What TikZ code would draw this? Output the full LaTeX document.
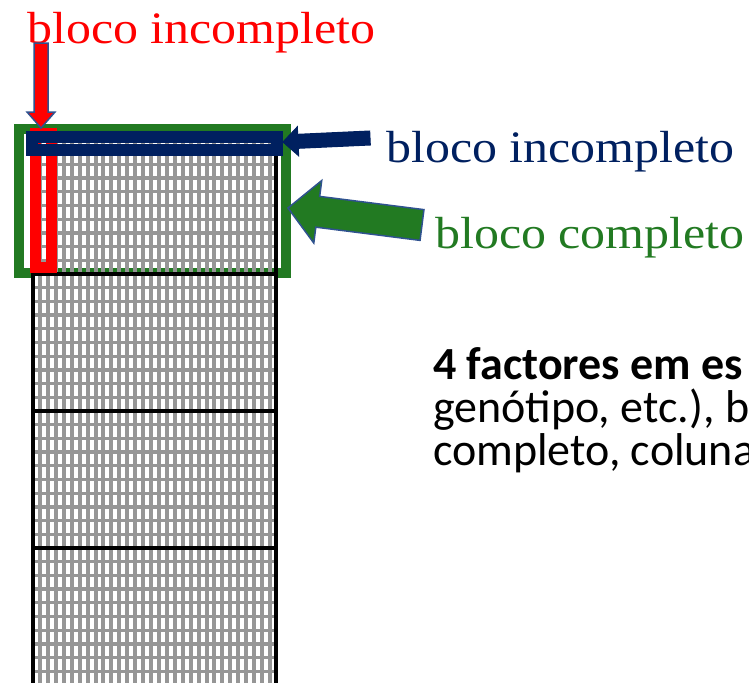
\documentclass[tikz,border=0pt]{standalone}
\usepackage{fontspec}
\setmainfont{Carlito}
\newfontfamily\blockfont[FakeStretch=1.11]{Liberation Serif}
\usetikzlibrary{calc}

\definecolor{blkred}{RGB}{255,0,0}
\definecolor{blknavy}{RGB}{0,32,96}
\definecolor{blkgreen}{RGB}{34,122,34}
\definecolor{arrowedge}{RGB}{47,82,143}
\definecolor{gridgray}{RGB}{150,150,150}

% block arrow: #1 style, #2 tail, #3 tip, #4 half shaft, #5 half head, #6 head length
\newcommand\blockarrow[6]{%
  \path[#1] ($(#2)!#4!90:(#3)$) -- ($(#3)!#6!(#2)!#4!-90:(#2)$)
    -- ($(#3)!#6!(#2)!#5!-90:(#2)$) -- (#3)
    -- ($(#3)!#6!(#2)!#5!90:(#2)$) -- ($(#3)!#6!(#2)!#4!90:(#2)$)
    -- ($(#2)!#4!-90:(#3)$) -- cycle;}

\begin{document}
\begin{tikzpicture}[x=1pt,y=-1pt,
  lbl/.style={anchor=base west,inner sep=0pt,font=\blockfont\fontsize{45}{45}\selectfont},
  body/.style={anchor=base west,inner sep=0pt,font=\fontsize{46}{46}\selectfont},
  gridline/.style={gridgray,line width=#1},
  border/.style={black,line width=4pt}]
\useasboundingbox (0,0) rectangle (749,683);

% complete block (green frame)
\draw[blkgreen,line width=10pt] (19,129) rectangle (286,273);
\fill[white] (33,276) rectangle (276,683);

% plots
\foreach \k in {0,...,29}
  \draw[gridline=4pt] ({40+7.93*\k},137) -- ({40+7.93*\k},683);
\foreach \b in {137,274,411,548}
  \foreach \k in {1,...,9}
    \draw[gridline=3.3pt] (33,{\b+13.7*\k}) -- (276,{\b+13.7*\k});

% block borders
\draw[border] (33,137) -- (33,683);
\draw[border] (276,137) -- (276,683);
\foreach \b in {274,411,548}
  \draw[border] (31,\b) -- (278,\b);

% incomplete blocks
\draw[blkred,line width=11pt] (35.5,133.5) rectangle (51,267.5);
\draw[blknavy,line width=12pt] (32,136.5) rectangle (277,149.5);

% labels
\node[lbl,text=blkred] (redlbl) at (27,43) {bloco incompleto};
\node[lbl,text=blknavy] (navylbl) at (386,162) {bloco incompleto};
\node[lbl,text=blkgreen] (greenlbl) at (435,248) {bloco completo};

\node[body,font=\bfseries\fontsize{46}{46}\selectfont] (line1) at (433,379) {4 factores em es};
\node[body] (line2) at (433,422) {genótipo, etc.), b};
\node[body] (line3) at (433,465) {completo, coluna};

% arrows
\coordinate (redtail) at (41,43);
\coordinate (redtip) at (41,128);
\coordinate (navytail) at (370,138);
\coordinate (navytip) at (283,142);
\coordinate (greentail) at (422,225);
\coordinate (greentip) at (288,208);
\blockarrow{fill=blkred,draw=arrowedge,line width=1.5pt}{redtail}{redtip}{7pt}{14pt}{16pt}
\blockarrow{fill=blknavy,draw=blknavy,line width=1pt}{navytail}{navytip}{7pt}{14.5pt}{15pt}
\blockarrow{fill=blkgreen,draw=arrowedge,line width=1.5pt}{greentail}{greentip}{15.5pt}{31.5pt}{30pt}
\end{tikzpicture}
\end{document}
